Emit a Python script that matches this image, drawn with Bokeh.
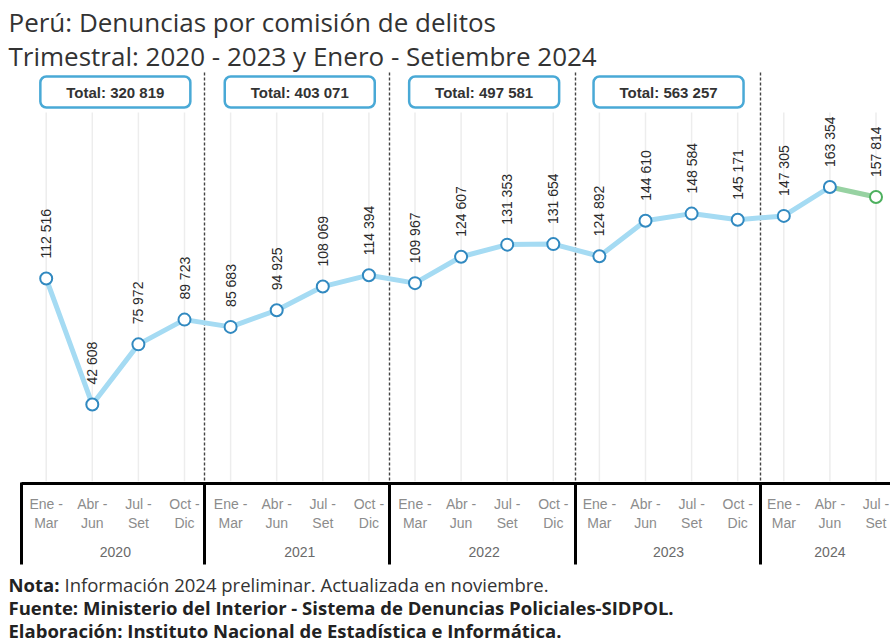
from math import pi
from bokeh.plotting import figure
from bokeh.models import Range1d, Label
from bokeh.core.properties import value
from bokeh.embed import file_html
from bokeh.resources import INLINE

# ---------------- data ----------------
years = ["2020", "2021", "2022", "2023", "2024"]
quarter_top = ["Ene -", "Abr -", "Jul -", "Oct -"]
quarter_bottom = ["Mar", "Jun", "Set", "Dic"]
denuncias = [112516, 42608, 75972, 89723,
             85683, 94925, 108069, 114394,
             109967, 124607, 131353, 131654,
             124892, 144610, 148584, 145171,
             147305, 163354, 157814]
totals = [320819, 403071, 497581, 563257]
title_1 = "Perú: Denuncias por comisión de delitos"
title_2 = "Trimestral: 2020 - 2023 y Enero - Setiembre 2024"
nota_b = "Nota:"
nota_t = "Información 2024 preliminar. Actualizada en noviembre."
fuente = "Fuente: Ministerio del Interior - Sistema de Denuncias Policiales-SIDPOL."
elab = "Elaboración: Instituto Nacional de Estadística e Informática."

# ---------------- layout ----------------
W, H = 890, 644
X0, DX = 45.7, 46.1           # px of first quarter, px per quarter
Y0, KY = 480.7, 1.801 / 1000  # px of zero value, px per unit


def px_x(x):
    return (x - X0) / DX


def px_y(y):
    return (Y0 - y) / KY


def fmt(v):
    return f"{v:,}".replace(",", " ")


SANS = value("Liberation Sans")
TFONT = "Open Sans"

p = figure(width=W, height=H,
           x_range=Range1d(-X0 / DX, (W - X0) / DX),
           y_range=Range1d((Y0 - H) / KY, Y0 / KY),
           x_axis_type=None, y_axis_type=None,
           toolbar_location=None, output_backend="svg",
           min_border=0, outline_line_color=None,
           background_fill_color="white", border_fill_color="white")

n = len(denuncias)
idx = list(range(n))
q_year = [years[i // 4] for i in idx]

# faint vertical grid lines at each quarter
p.segment(x0=idx, x1=idx, y0=[0] * n, y1=[px_y(112)] * n,
          line_color="#ededed", line_width=1.5)

# dashed year separators
sep_x = [px_x(s) for s in (204, 389, 575, 760)]
p.segment(x0=sep_x, x1=sep_x, y0=[px_y(72)] * 4, y1=[px_y(483)] * 4,
          line_color="#444444", line_width=1.4, line_dash="3 2")

# axis box
left_x = px_x(21)
right_x = px_x(W + 10)
p.segment(x0=[left_x], x1=[right_x], y0=[px_y(483)], y1=[px_y(483)],
          line_color="black", line_width=3)
vx = [left_x] + sep_x
p.segment(x0=vx, x1=vx, y0=[px_y(482)] * len(vx), y1=[px_y(564)] * len(vx),
          line_color="black", line_width=3)

# quarter labels
p.text(x=idx, y=[px_y(503)] * n, text=[quarter_top[i % 4] for i in idx],
       text_font=SANS, text_font_size="14px", text_color="#8c8c8c",
       text_align="center", text_baseline="middle")
p.text(x=idx, y=[px_y(522)] * n, text=[quarter_bottom[i % 4] for i in idx],
       text_font=SANS, text_font_size="14px", text_color="#8c8c8c",
       text_align="center", text_baseline="middle")

# year labels
year_x = []
for yname in years:
    qs = [i for i in idx if q_year[i] == yname]
    year_x.append(sum(qs) / len(qs))
p.text(x=year_x, y=[px_y(551)] * len(years), text=years,
       text_font=SANS, text_font_size="14px", text_color="#6a6a6a",
       text_align="center", text_baseline="middle")

# total boxes
box_x = year_x[:4]
box_w = 150 / DX
p.quad(left=[x - box_w / 2 for x in box_x], right=[x + box_w / 2 for x in box_x],
       top=[px_y(76)] * 4, bottom=[px_y(107)] * 4,
       fill_color="white", line_color="#49a9d6", line_width=2.5,
       border_radius=6)
p.text(x=box_x, y=[px_y(91.5)] * 4, text=[f"Total: {fmt(t)}" for t in totals],
       text_font=SANS, text_font_size="15px", text_font_style="bold",
       text_color="#333333", text_align="center", text_baseline="middle")

# line
p.line(x=idx[:18], y=denuncias[:18], line_color="#a5dbf3", line_width=5)
p.line(x=idx[17:], y=denuncias[17:], line_color="#97d2a2", line_width=5)
p.scatter(x=idx[:18], y=denuncias[:18], size=12, fill_color="white",
          line_color="#3189c0", line_width=2)
p.scatter(x=idx[18:], y=denuncias[18:], size=12, fill_color="white",
          line_color="#4db05e", line_width=2)

# data labels (rotated)
lab_pad = 20 / KY
p.text(x=idx, y=[v + lab_pad for v in denuncias], text=[fmt(v) for v in denuncias],
       angle=pi / 2, text_font=SANS, text_font_size="14px", text_color="#2a2a2a",
       text_align="left", text_baseline="middle")

# titles
p.add_layout(Label(x=px_x(8), y=px_y(21), text=title_1, text_font=TFONT,
                   text_font_size="26px", text_color="#333333",
                   text_baseline="middle", text_align="left"))
p.add_layout(Label(x=px_x(8), y=px_y(55), text=title_2, text_font=TFONT,
                   text_font_size="26px", text_color="#333333",
                   text_baseline="middle", text_align="left"))

# footer
FS = "18.5px"
p.add_layout(Label(x=px_x(8), y=px_y(584), text=nota_b, text_font=TFONT,
                   text_font_size=FS, text_font_style="bold", text_color="#222222",
                   text_baseline="middle"))
p.add_layout(Label(x=px_x(64), y=px_y(584), text=nota_t, text_font=TFONT,
                   text_font_size=FS, text_color="#333333",
                   text_baseline="middle"))
p.add_layout(Label(x=px_x(8), y=px_y(607), text=fuente, text_font=TFONT,
                   text_font_size=FS, text_font_style="bold", text_color="#222222",
                   text_baseline="middle"))
p.add_layout(Label(x=px_x(8), y=px_y(630), text=elab, text_font=TFONT,
                   text_font_size=FS, text_font_style="bold", text_color="#222222",
                   text_baseline="middle"))

open("out.html", "w").write(file_html(p, INLINE))
